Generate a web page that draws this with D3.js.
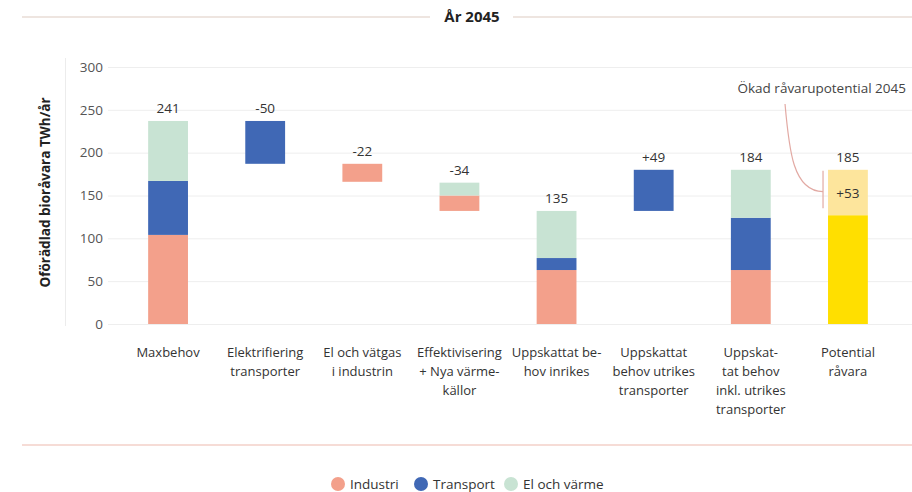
<!DOCTYPE html>
<html>
<head>
<meta charset="utf-8">
<script src="https://cdn.jsdelivr.net/npm/d3@7"></script>
<style>
  body { margin: 0; background: #fff; }
  svg { display: block; font-family: "Open Sans", sans-serif; }
</style>
</head>
<body>
<div id="chart"></div>
<script>
"use strict";

// data
const categories = ["Maxbehov", "Elektrifiering", "El och vätgas", "Effektivisering",
    "Inrikes", "Utrikes", "Inkl utrikes", "Potential"];
const tickLabels = [
    ["Maxbehov"],
    ["Elektrifiering", "transporter"],
    ["El och vätgas", "i industrin"],
    ["Effektivisering", "+ Nya värme-", "källor"],
    ["Uppskattat be-", "hov inrikes"],
    ["Uppskattat", "behov utrikes", "transporter"],
    ["Uppskat-", "tat behov", "inkl. utrikes", "transporter"],
    ["Potential", "råvara"]
];
const base = [0, 187, 166, 132, 0, 132, 0, 0];
const industri = [104, 0, 21, 18, 63, 0, 63, 0];
const transport = [63, 50, 0, 0, 14, 48, 61, 0];
const elVarme = [70, 0, 0, 15, 55, 0, 56, 0];
const ravara = [0, 0, 0, 0, 0, 0, 0, 127];
const okadRavara = [0, 0, 0, 0, 0, 0, 0, 53];
const valueLabels = ["241", "-50", "-22", "-34", "135", "+49", "184", "185"];
const yTicks = [0, 50, 100, 150, 200, 250, 300];

const seriesValues = [industri, transport, elVarme, ravara, okadRavara];
const colors = ["#f3a08b", "#4068b5", "#c8e3d3", "#ffdf00", "#fde59c"];
const legendNames = ["Industri", "Transport", "El och värme"];

const width = 912, height = 492;

const svg = d3.select("#chart").append("svg")
    .attr("width", width)
    .attr("height", height);

const x = d3.scaleBand()
    .domain(categories)
    .range([119.5, 896.5])
    .paddingInner(0.59)
    .paddingOuter(0.295);

const y = d3.scaleLinear()
    .domain([0, 300])
    .range([324, 67]);

// header
svg.append("line")
    .attr("x1", 22).attr("x2", 430).attr("y1", 17).attr("y2", 17)
    .attr("stroke", "#e8dcd6").attr("stroke-width", 1.5);
svg.append("line")
    .attr("x1", 513).attr("x2", 912).attr("y1", 17).attr("y2", 17)
    .attr("stroke", "#e8dcd6").attr("stroke-width", 1.5);
svg.append("text")
    .attr("x", 472).attr("y", 22)
    .attr("text-anchor", "middle")
    .attr("font-size", 15).attr("font-weight", 700)
    .attr("fill", "#222")
    .text("År 2045");

// y axis
svg.append("line")
    .attr("x1", 65.5).attr("x2", 65.5).attr("y1", 58).attr("y2", 326)
    .attr("stroke", "#ececec");

const yAxis = svg.append("g")
    .attr("transform", "translate(108,0)")
    .call(d3.axisLeft(y).tickValues(yTicks).tickSize(-(width - 108)).tickPadding(5));
yAxis.select(".domain").remove();
yAxis.selectAll(".tick line").attr("stroke", "#eeeeee");
yAxis.selectAll(".tick text")
    .attr("font-size", 13.5).attr("fill", "#555")
    .attr("font-family", "Open Sans, sans-serif");

svg.append("text")
    .attr("transform", `translate(46,${y(150) - 3}) rotate(-90)`)
    .attr("text-anchor", "middle")
    .attr("dominant-baseline", "middle")
    .attr("font-size", 13.5).attr("font-weight", 700)
    .attr("fill", "#222")
    .text("Oförädlad bioråvara TWh/år");

// stacked waterfall bars
const idx = categories.map((c, i) => i);
const tops = idx.map(i => base[i] + d3.sum(seriesValues, s => s[i]));

seriesValues.forEach((vals, si) => {
    svg.append("g")
        .selectAll("rect")
        .data(idx.filter(i => vals[i] > 0))
        .join("rect")
        .attr("x", i => x(categories[i]))
        .attr("width", x.bandwidth())
        .attr("y", i => {
            const start = base[i] + d3.sum(seriesValues.slice(0, si), s => s[i]);
            return y(start + vals[i]);
        })
        .attr("height", i => y(0) - y(vals[i]))
        .attr("fill", colors[si]);
});

// value labels
svg.append("g")
    .selectAll("text")
    .data(idx)
    .join("text")
    .attr("x", i => x(categories[i]) + x.bandwidth() / 2)
    .attr("y", i => y(tops[i]) - 8)
    .attr("text-anchor", "middle")
    .attr("font-size", 13.5).attr("fill", "#333")
    .text(i => valueLabels[i]);

// +53 label inside the light yellow part
const last = categories.length - 1;
svg.append("text")
    .attr("x", x(categories[last]) + x.bandwidth() / 2)
    .attr("y", y(ravara[last] + okadRavara[last] / 2) + 5)
    .attr("text-anchor", "middle")
    .attr("font-size", 13.5).attr("fill", "#333")
    .text("+" + okadRavara[last]);

// annotation
const tx = x(categories[last]) - 5;
svg.append("line")
    .attr("x1", tx).attr("x2", tx)
    .attr("y1", y(tops[last] - 1)).attr("y2", y(ravara[last] + 8))
    .attr("stroke", "#e2a9a3").attr("stroke-width", 1.2);
const ym = y(ravara[last] + okadRavara[last] * 0.52);
svg.append("path")
    .attr("d", `M${tx - 38},104 C${tx - 34},150 ${tx - 30},${ym} ${tx},${ym}`)
    .attr("fill", "none")
    .attr("stroke", "#e2a9a3").attr("stroke-width", 1.2);
svg.append("text")
    .attr("x", 906).attr("y", 93)
    .attr("text-anchor", "end")
    .attr("font-size", 13.5).attr("fill", "#444")
    .text("Ökad råvarupotential 2045");

// category labels
const labels = svg.append("g")
    .selectAll("text")
    .data(idx)
    .join("text")
    .attr("x", i => x(categories[i]) + x.bandwidth() / 2)
    .attr("y", 357)
    .attr("text-anchor", "middle")
    .attr("font-size", 13).attr("fill", "#333");
labels.selectAll("tspan")
    .data(i => tickLabels[i])
    .join("tspan")
    .attr("x", function() { return this.parentNode.getAttribute("x"); })
    .attr("dy", (d, j) => j === 0 ? 0 : 19)
    .text(d => d);

// bottom rule
svg.append("line")
    .attr("x1", 22).attr("x2", 912).attr("y1", 445).attr("y2", 445)
    .attr("stroke", "#f3d0c9").attr("stroke-width", 1.5);

// legend
const legendX = [338, 421, 511];
const legend = svg.append("g")
    .selectAll("g")
    .data(legendNames)
    .join("g")
    .attr("transform", (d, i) => `translate(${legendX[i]},484)`);
legend.append("circle")
    .attr("r", 7)
    .attr("fill", (d, i) => colors[i]);
legend.append("text")
    .attr("x", 12).attr("y", 4.5)
    .attr("font-size", 13.5).attr("fill", "#333")
    .text(d => d);
</script>
</body>
</html>
